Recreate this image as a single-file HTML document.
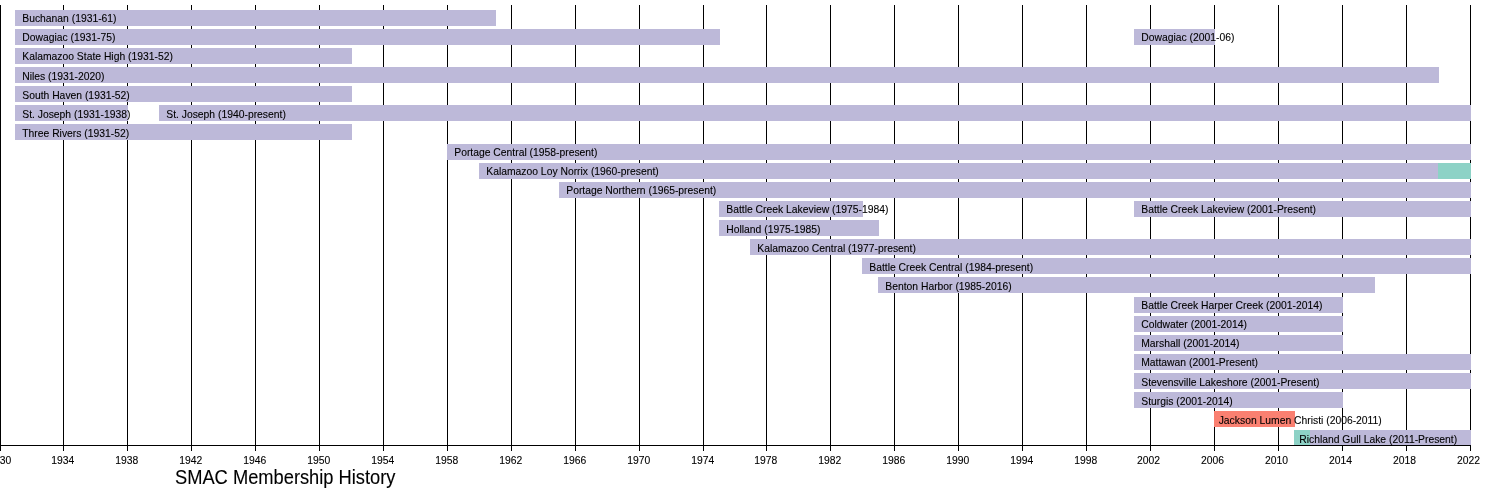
<!DOCTYPE html><html><head><meta charset="utf-8"><style>html,body{margin:0;padding:0;background:#fff;}svg{display:block;will-change:transform;}text{font-family:"Liberation Sans",sans-serif;fill:#000;stroke:#000;stroke-width:0.1px;}</style></head><body>
<svg width="1500" height="495" viewBox="0 0 1500 495">
<rect x="0" y="0" width="1500" height="495" fill="#fff"/>
<g shape-rendering="crispEdges"><rect x="0" y="5" width="1" height="446" fill="#000"/><rect x="63" y="5" width="1" height="446" fill="#000"/><rect x="127" y="5" width="1" height="446" fill="#000"/><rect x="191" y="5" width="1" height="446" fill="#000"/><rect x="255" y="5" width="1" height="446" fill="#000"/><rect x="319" y="5" width="1" height="446" fill="#000"/><rect x="383" y="5" width="1" height="446" fill="#000"/><rect x="447" y="5" width="1" height="446" fill="#000"/><rect x="511" y="5" width="1" height="446" fill="#000"/><rect x="575" y="5" width="1" height="446" fill="#000"/><rect x="639" y="5" width="1" height="446" fill="#000"/><rect x="703" y="5" width="1" height="446" fill="#000"/><rect x="766" y="5" width="1" height="446" fill="#000"/><rect x="830" y="5" width="1" height="446" fill="#000"/><rect x="894" y="5" width="1" height="446" fill="#000"/><rect x="958" y="5" width="1" height="446" fill="#000"/><rect x="1022" y="5" width="1" height="446" fill="#000"/><rect x="1086" y="5" width="1" height="446" fill="#000"/><rect x="1150" y="5" width="1" height="446" fill="#000"/><rect x="1214" y="5" width="1" height="446" fill="#000"/><rect x="1278" y="5" width="1" height="446" fill="#000"/><rect x="1342" y="5" width="1" height="446" fill="#000"/><rect x="1406" y="5" width="1" height="446" fill="#000"/><rect x="1470" y="5" width="1" height="446" fill="#000"/></g>
<g shape-rendering="crispEdges"><rect x="15" y="10" width="481" height="16" fill="#bdb9d9"/><rect x="15" y="29" width="705" height="16" fill="#bdb9d9"/><rect x="1134" y="29" width="81" height="16" fill="#bdb9d9"/><rect x="15" y="48" width="337" height="16" fill="#bdb9d9"/><rect x="15" y="67" width="1424" height="16" fill="#bdb9d9"/><rect x="15" y="86" width="337" height="16" fill="#bdb9d9"/><rect x="15" y="105" width="113" height="16" fill="#bdb9d9"/><rect x="159" y="105" width="1312" height="16" fill="#bdb9d9"/><rect x="15" y="124" width="337" height="16" fill="#bdb9d9"/><rect x="447" y="144" width="1024" height="16" fill="#bdb9d9"/><rect x="479" y="163" width="960" height="16" fill="#bdb9d9"/><rect x="1438" y="163" width="33" height="16" fill="#8dd2c6"/><rect x="559" y="182" width="912" height="16" fill="#bdb9d9"/><rect x="719" y="201" width="144" height="16" fill="#bdb9d9"/><rect x="1134" y="201" width="337" height="16" fill="#bdb9d9"/><rect x="719" y="220" width="160" height="16" fill="#bdb9d9"/><rect x="750" y="239" width="721" height="16" fill="#bdb9d9"/><rect x="862" y="258" width="609" height="16" fill="#bdb9d9"/><rect x="878" y="277" width="497" height="16" fill="#bdb9d9"/><rect x="1134" y="297" width="209" height="16" fill="#bdb9d9"/><rect x="1134" y="316" width="209" height="16" fill="#bdb9d9"/><rect x="1134" y="335" width="209" height="16" fill="#bdb9d9"/><rect x="1134" y="354" width="337" height="16" fill="#bdb9d9"/><rect x="1134" y="373" width="337" height="16" fill="#bdb9d9"/><rect x="1134" y="392" width="209" height="16" fill="#bdb9d9"/><rect x="1214" y="411" width="81" height="16" fill="#fa8071"/><rect x="1294" y="430" width="17" height="15" fill="#8dd2c6"/><rect x="1310" y="430" width="161" height="15" fill="#bdb9d9"/></g>
<g><text x="22.25" y="22" font-size="10.35">Buchanan (1931-61)</text><text x="22.25" y="41" font-size="10.35">Dowagiac (1931-75)</text><text x="1141.25" y="41" font-size="10.35">Dowagiac (2001-06)</text><text x="22.25" y="60" font-size="10.35">Kalamazoo State High (1931-52)</text><text x="22.25" y="80" font-size="10.35">Niles (1931-2020)</text><text x="22.25" y="99" font-size="10.35">South Haven (1931-52)</text><text x="22.25" y="118" font-size="10.35">St. Joseph (1931-1938)</text><text x="166.25" y="118" font-size="10.35">St. Joseph (1940-present)</text><text x="22.25" y="137" font-size="10.35">Three Rivers (1931-52)</text><text x="454.25" y="156" font-size="10.35">Portage Central (1958-present)</text><text x="486.25" y="175" font-size="10.35">Kalamazoo Loy Norrix (1960-present)</text><text x="566.25" y="194" font-size="10.35">Portage Northern (1965-present)</text><text x="726.25" y="213" font-size="10.35">Battle Creek Lakeview (1975-1984)</text><text x="1141.25" y="213" font-size="10.35">Battle Creek Lakeview (2001-Present)</text><text x="726.25" y="233" font-size="10.35">Holland (1975-1985)</text><text x="757.25" y="252" font-size="10.35">Kalamazoo Central (1977-present)</text><text x="869.25" y="271" font-size="10.35">Battle Creek Central (1984-present)</text><text x="885.25" y="290" font-size="10.35">Benton Harbor (1985-2016)</text><text x="1141.25" y="309" font-size="10.35">Battle Creek Harper Creek (2001-2014)</text><text x="1141.25" y="328" font-size="10.35">Coldwater (2001-2014)</text><text x="1141.25" y="347" font-size="10.35">Marshall (2001-2014)</text><text x="1141.25" y="366" font-size="10.35">Mattawan (2001-Present)</text><text x="1141.25" y="386" font-size="10.35">Stevensville Lakeshore (2001-Present)</text><text x="1141.25" y="405" font-size="10.35">Sturgis (2001-2014)</text><text x="1218.7" y="424" font-size="10.35">Jackson Lumen Christi (2006-2011)</text><text x="1299.25" y="443" font-size="10.35">Richland Gull Lake (2011-Present)</text></g>
<rect x="0" y="445" width="1471" height="1" fill="#000" shape-rendering="crispEdges"/>
<g><text x="-0.2" y="463.8" font-size="10.35" text-anchor="middle">1930</text><text x="62.8" y="463.8" font-size="10.35" text-anchor="middle">1934</text><text x="126.8" y="463.8" font-size="10.35" text-anchor="middle">1938</text><text x="190.8" y="463.8" font-size="10.35" text-anchor="middle">1942</text><text x="254.8" y="463.8" font-size="10.35" text-anchor="middle">1946</text><text x="318.8" y="463.8" font-size="10.35" text-anchor="middle">1950</text><text x="382.8" y="463.8" font-size="10.35" text-anchor="middle">1954</text><text x="446.8" y="463.8" font-size="10.35" text-anchor="middle">1958</text><text x="510.8" y="463.8" font-size="10.35" text-anchor="middle">1962</text><text x="574.8" y="463.8" font-size="10.35" text-anchor="middle">1966</text><text x="638.8" y="463.8" font-size="10.35" text-anchor="middle">1970</text><text x="702.8" y="463.8" font-size="10.35" text-anchor="middle">1974</text><text x="765.8" y="463.8" font-size="10.35" text-anchor="middle">1978</text><text x="829.8" y="463.8" font-size="10.35" text-anchor="middle">1982</text><text x="893.8" y="463.8" font-size="10.35" text-anchor="middle">1986</text><text x="957.8" y="463.8" font-size="10.35" text-anchor="middle">1990</text><text x="1021.8" y="463.8" font-size="10.35" text-anchor="middle">1994</text><text x="1085.8" y="463.8" font-size="10.35" text-anchor="middle">1998</text><text x="1148.55" y="463.8" font-size="10.35" text-anchor="middle">2002</text><text x="1212.55" y="463.8" font-size="10.35" text-anchor="middle">2006</text><text x="1276.55" y="463.8" font-size="10.35" text-anchor="middle">2010</text><text x="1340.55" y="463.8" font-size="10.35" text-anchor="middle">2014</text><text x="1404.55" y="463.8" font-size="10.35" text-anchor="middle">2018</text><text x="1468.55" y="463.8" font-size="10.35" text-anchor="middle">2022</text></g>
<text x="175" y="0" font-size="18.3" transform="translate(0 484) scale(1 1.07)">SMAC Membership History</text>
</svg></body></html>
